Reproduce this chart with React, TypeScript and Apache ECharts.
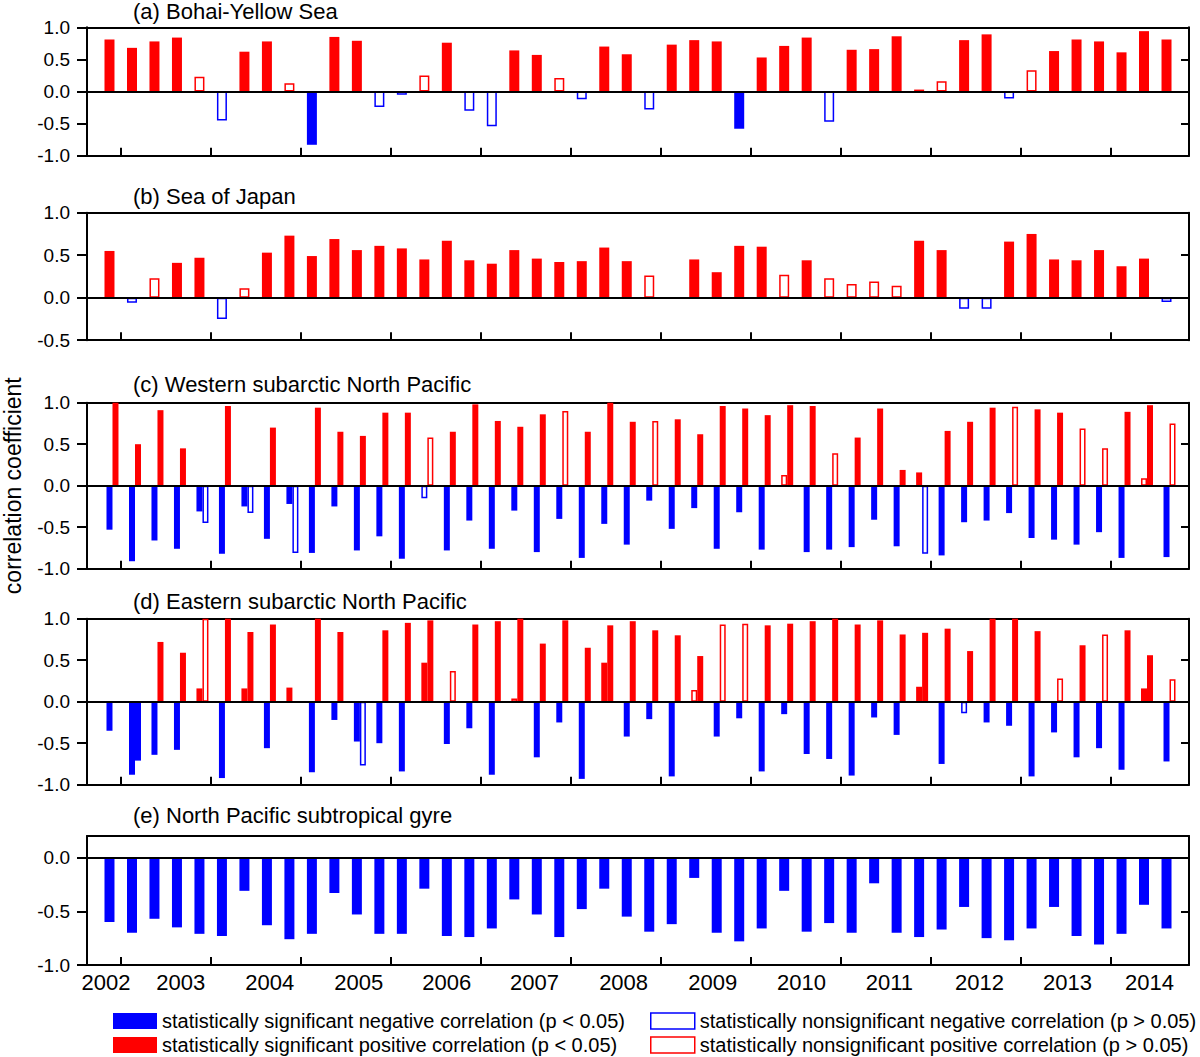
import React, { useEffect, useRef } from 'react';
import * as echarts from 'echarts';

// ---------------- data (48 seasons, 2002-2013/14) ----------------
const yearLabels = ['2002','2003','2004','2005','2006','2007','2008','2009','2010','2011','2012','2013','2014'];
// label positions along the season index axis
const yearLabelPos = [-0.16, 3.17, 7.13, 11.08, 15.0, 18.9, 22.86, 26.82, 30.77, 34.68, 38.68, 42.6, 46.24];
// year tick positions along the season index axis
const yearTickPos = [0.5, 4.5, 8.5, 12.5, 16.5, 20.5, 24.5, 28.5, 32.5, 36.5, 40.5, 44.5];

const titles = [
  '(a) Bohai-Yellow Sea',
  '(b) Sea of Japan',
  '(c) Western subarctic North Pacific',
  '(d) Eastern subarctic North Pacific',
  '(e) North Pacific subtropical gyre',
];

// (a) Bohai-Yellow Sea ; sig: 1 = p < 0.05
const aVal = [0.81,0.68,0.78,0.84,0.23,-0.45,0.62,0.78,0.13,-0.83,0.85,0.79,-0.24,-0.05,0.25,0.76,-0.30,-0.54,0.64,0.57,0.21,-0.12,0.70,0.58,-0.28,0.73,0.80,0.78,-0.58,0.53,0.71,0.84,-0.47,0.65,0.66,0.86,0.03,0.16,0.80,0.89,-0.11,0.33,0.63,0.81,0.78,0.61,0.94,0.81];
const aSig = [1,1,1,1,0,0,1,1,0,1,1,1,0,0,0,1,0,0,1,1,0,0,1,1,0,1,1,1,1,1,1,1,0,1,1,1,1,0,1,1,0,0,1,1,1,1,1,1];

// (b) Sea of Japan
const bVal = [0.55,-0.06,0.23,0.41,0.47,-0.25,0.11,0.53,0.73,0.49,0.69,0.56,0.61,0.58,0.45,0.67,0.44,0.40,0.56,0.46,0.42,0.43,0.59,0.43,0.26,null,0.45,0.30,0.61,0.60,0.27,0.44,0.23,0.16,0.19,0.14,0.67,0.56,-0.13,-0.13,0.66,0.75,0.45,0.44,0.56,0.37,0.46,-0.05];
const bSig = [1,0,0,1,1,0,0,1,1,1,1,1,1,1,1,1,1,1,1,1,1,1,1,1,0,0,1,1,1,1,0,1,0,0,0,0,1,1,0,0,1,1,1,1,1,1,1,0];

// (c) Western subarctic North Pacific: two bars per season (left, right)
const cLeft = [-0.53,-0.91,-0.66,-0.76,-0.31,-0.82,-0.25,-0.64,-0.22,-0.81,-0.25,-0.78,-0.61,-0.88,-0.15,-0.78,-0.42,-0.76,-0.30,-0.80,-0.40,-0.87,-0.46,-0.71,-0.18,-0.52,-0.27,-0.76,-0.32,-0.77,0.13,-0.80,-0.77,-0.74,-0.41,-0.73,0.16,-0.84,-0.44,-0.42,-0.33,-0.63,-0.65,-0.71,-0.56,-0.87,0.09,-0.86];
const cLeftSig = [1,1,1,1,1,1,1,1,1,1,1,1,1,1,0,1,1,1,1,1,1,1,1,1,1,1,1,1,1,1,0,1,1,1,1,1,1,1,1,1,1,1,1,1,1,1,0,1];
const cRight = [1.0,0.50,0.91,0.45,-0.45,0.96,-0.33,0.70,-0.81,0.94,0.65,0.60,0.88,0.88,0.58,0.65,0.98,0.78,0.71,0.86,0.90,0.65,1.0,0.77,0.78,0.80,0.62,0.96,0.93,0.85,0.97,0.96,0.39,0.58,0.93,0.19,-0.82,0.66,0.77,0.94,0.95,0.92,0.88,0.69,0.45,0.89,0.97,0.75];
const cRightSig = [1,1,1,1,0,1,0,1,0,1,1,1,1,1,0,1,1,1,1,1,0,1,1,1,0,1,1,1,1,1,1,1,0,1,1,1,0,1,1,1,0,1,1,0,0,1,1,0];

// (d) Eastern subarctic North Pacific
const dLeft = [-0.35,-0.88,-0.64,-0.58,0.16,-0.92,0.16,-0.56,0.17,-0.85,-0.22,-0.48,-0.50,-0.84,0.47,-0.51,-0.32,-0.88,0.04,-0.67,-0.25,-0.93,0.47,-0.42,-0.21,-0.90,0.14,-0.42,-0.20,-0.84,-0.15,-0.63,-0.69,-0.89,-0.19,-0.40,0.18,-0.75,-0.14,-0.25,-0.29,-0.90,-0.37,-0.67,-0.56,-0.82,0.16,-0.72];
const dLeftSig = [1,1,1,1,1,1,1,1,1,1,1,1,1,1,1,1,1,1,0,1,1,1,1,1,1,1,0,1,1,1,1,1,1,1,1,1,1,1,0,1,1,1,1,1,1,1,1,1];
const dRight = [null,-0.71,0.72,0.59,1.0,1.0,0.84,0.93,null,1.0,0.84,-0.77,0.86,0.95,0.98,0.37,0.93,0.97,1.0,0.70,0.98,0.65,0.92,0.97,0.86,0.80,0.55,0.93,0.94,0.92,0.94,0.97,1.0,0.93,0.98,0.81,0.83,0.88,0.61,1.0,1.0,0.85,0.28,0.68,0.81,0.86,0.56,0.27];
const dRightSig = [1,1,1,1,0,1,1,1,1,1,1,0,1,1,1,0,1,1,1,1,1,1,1,1,1,1,1,0,0,1,1,1,1,1,1,1,1,1,1,1,1,1,0,1,0,1,1,0];

// (e) North Pacific subtropical gyre
const eVal = [-0.60,-0.70,-0.57,-0.65,-0.71,-0.73,-0.31,-0.63,-0.76,-0.71,-0.33,-0.53,-0.71,-0.71,-0.29,-0.73,-0.74,-0.66,-0.39,-0.53,-0.74,-0.48,-0.29,-0.55,-0.69,-0.62,-0.19,-0.70,-0.78,-0.66,-0.31,-0.69,-0.61,-0.70,-0.24,-0.70,-0.74,-0.67,-0.46,-0.75,-0.77,-0.66,-0.46,-0.73,-0.81,-0.71,-0.44,-0.66];
const eSig = eVal.map(() => 1);

const legendNames = [
  'statistically significant negative correlation (p < 0.05)',
  'statistically nonsignificant negative correlation (p > 0.05)',
  'statistically significant positive correlation (p < 0.05)',
  'statistically nonsignificant positive correlation (p > 0.05)',
];

// ---------------- styling ----------------
const FONT = '"Liberation Sans", Arial, Helvetica, sans-serif';
const RED = '#ff0000';
const BLUE = '#0000ff';
const BLACK = '#000000';
const RIGHT_SHIFT = 6 / 22.5; // right-hand bar of a pair, in season units

function item(x: number, v: number | null, sig: number) {
  if (v === null || v === undefined) return null;
  const col = v < 0 ? BLUE : RED;
  return {
    value: [x, v],
    itemStyle: sig
      ? { color: col, borderWidth: 0 }
      : { color: '#ffffff', borderColor: col, borderWidth: 1.5 },
  };
}

function buildData(vals: (number | null)[], sig: number[], shift: number) {
  const out: any[] = [];
  vals.forEach((v, i) => {
    const it = item(i + shift, v, sig[i]);
    if (it) out.push(it);
  });
  return out;
}

const panels = [
  { top: 27.3, height: 128.4, min: -1, max: 1, ticks: [-1, -0.5, 0, 0.5, 1], barWidth: 10,
    sets: [{ vals: aVal, sig: aSig, shift: 0 }] },
  { top: 212.7, height: 127.5, min: -0.5, max: 1, ticks: [-0.5, 0, 0.5, 1], barWidth: 10,
    sets: [{ vals: bVal, sig: bSig, shift: 0 }] },
  { top: 402.7, height: 166, min: -1, max: 1, ticks: [-1, -0.5, 0, 0.5, 1], barWidth: 6,
    sets: [{ vals: cLeft, sig: cLeftSig, shift: 0 }, { vals: cRight, sig: cRightSig, shift: RIGHT_SHIFT }] },
  { top: 618.7, height: 166, min: -1, max: 1, ticks: [-1, -0.5, 0, 0.5, 1], barWidth: 6,
    sets: [{ vals: dLeft, sig: dLeftSig, shift: 0 }, { vals: dRight, sig: dRightSig, shift: RIGHT_SHIFT }] },
  { top: 836, height: 129, min: -1, max: 0.2, ticks: [-1, -0.5, 0], barWidth: 10,
    sets: [{ vals: eVal, sig: eSig, shift: 0 }] },
];
const titleCenters = [11, 196, 384.5, 601, 815];

function buildOption() {
  const grid: any[] = [];
  const xAxis: any[] = [];
  const yAxis: any[] = [];
  const series: any[] = [];
  const frameLine = { show: true, onZero: false, lineStyle: { color: BLACK, width: 2 } };

  panels.forEach((p, k) => {
    const last = k === panels.length - 1;
    grid.push({ left: 87, width: 1102, top: p.top, height: p.height, outerBoundsMode: 'none', containLabel: false });
    xAxis.push({
      type: 'value', gridIndex: k, min: -1, max: 48, position: 'bottom',
      axisLine: frameLine,
      axisTick: { show: true, inside: true, length: 8, customValues: yearTickPos, lineStyle: { color: BLACK, width: 2 } },
      axisLabel: {
        show: last, customValues: yearLabelPos, margin: 6, fontSize: 22, color: BLACK, fontFamily: FONT,
        formatter: (v: number) => {
          let best = 0;
          yearLabelPos.forEach((pp, j) => { if (Math.abs(pp - v) < Math.abs(yearLabelPos[best] - v)) best = j; });
          return yearLabels[best];
        },
      },
      splitLine: { show: false },
    });
    xAxis.push({
      type: 'value', gridIndex: k, min: -1, max: 48, position: 'top',
      axisLine: frameLine, axisTick: { show: false }, axisLabel: { show: false }, splitLine: { show: false },
    });
    yAxis.push({
      type: 'value', gridIndex: k, min: p.min, max: p.max, position: 'left',
      axisLine: frameLine,
      axisTick: { show: true, inside: false, length: 10, customValues: p.ticks, lineStyle: { color: BLACK, width: 2 } },
      axisLabel: { show: true, customValues: p.ticks, margin: 17, fontSize: 19, color: BLACK, fontFamily: FONT,
        formatter: (v: number) => v.toFixed(1) },
      splitLine: { show: false },
      ...(k === 2 ? {
        name: 'correlation coefficient', nameLocation: 'middle', nameGap: 63,
        nameTextStyle: { fontSize: 23, color: BLACK, fontFamily: FONT },
      } : {}),
    });
    yAxis.push({
      type: 'value', gridIndex: k, min: p.min, max: p.max, position: 'right',
      axisLine: frameLine,
      axisTick: { show: true, inside: true, length: 8, customValues: p.ticks, lineStyle: { color: BLACK, width: 2 } },
      axisLabel: { show: false }, splitLine: { show: false },
    });

    p.sets.forEach((s, j) => {
      series.push({
        type: 'bar', name: 'panel' + k + '_' + j,
        xAxisIndex: 2 * k, yAxisIndex: 2 * k,
        barWidth: p.barWidth, barGap: '-100%',
        data: buildData(s.vals, s.sig, s.shift),
        silent: true,
        markLine: j === 0 ? {
          silent: true, symbol: ['none', 'none'], label: { show: false },
          lineStyle: { color: BLACK, width: 2, type: 'solid' },
          data: [{ yAxis: 0 }],
        } : undefined,
      });
    });
  });

  const legendStyles = [
    { color: BLUE, borderColor: BLUE, borderWidth: 0 },
    { color: '#ffffff', borderColor: BLUE, borderWidth: 1.5 },
    { color: RED, borderColor: RED, borderWidth: 0 },
    { color: '#ffffff', borderColor: RED, borderWidth: 1.5 },
  ];
  legendNames.forEach((n, i) => {
    series.push({
      type: 'bar', name: n, xAxisIndex: 0, yAxisIndex: 0, barWidth: 10, barGap: '-100%',
      data: [], itemStyle: legendStyles[i],
    });
  });
  const legendText = { fontSize: 20, color: BLACK, fontFamily: FONT, lineHeight: 20 };
  const legend = [
    {
      left: 113, top: 1011, orient: 'vertical', itemGap: 4, itemWidth: 44, itemHeight: 16,
      selectedMode: false, padding: 0, textStyle: legendText,
      data: [0, 2].map((i) => ({ name: legendNames[i], icon: 'rect', itemStyle: legendStyles[i] })),
    },
    {
      left: 650, top: 1011, orient: 'vertical', itemGap: 4, itemWidth: 44, itemHeight: 16,
      selectedMode: false, padding: 0, textStyle: legendText,
      data: [1, 3].map((i) => ({ name: legendNames[i], icon: 'rect', itemStyle: legendStyles[i] })),
    },
  ];

  const title = titles.map((t, k) => ({
    text: t, left: 133, top: Math.max(0, titleCenters[k] - 11), padding: 0,
    textStyle: { fontSize: 22, fontWeight: 'normal', color: BLACK, fontFamily: FONT, lineHeight: 22 },
  }));

  return {
    animation: false,
    backgroundColor: '#ffffff',
    textStyle: { fontFamily: FONT },
    title, legend, grid, xAxis, yAxis, series,
  };
}

export default function App() {
  const ref = useRef<HTMLDivElement>(null);
  useEffect(() => {
    if (!ref.current) return;
    const chart = echarts.init(ref.current, null, { renderer: 'svg' });
    chart.setOption(buildOption() as any);
    return () => chart.dispose();
  }, []);
  return (
    <div
      ref={ref}
      style={{ position: 'absolute', left: 0, top: 0, width: 1200, height: 1057 }}
    />
  );
}
